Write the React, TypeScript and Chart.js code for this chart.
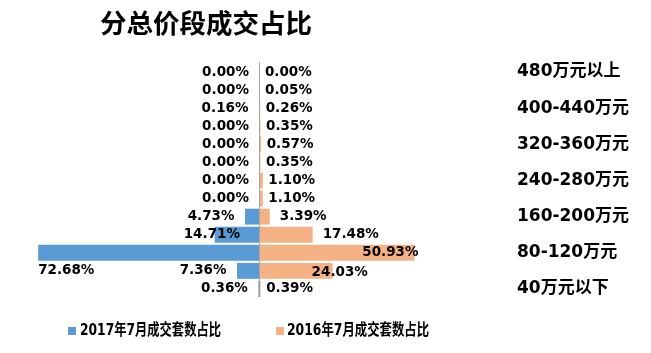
import React, { useEffect, useRef } from "react";
import { Chart, registerables } from "chart.js";

Chart.register(...registerables);

const titleText = "分总价段成交占比";
const categories = [
  "480万元以上",
  "440-480万元",
  "400-440万元",
  "360-400万元",
  "320-360万元",
  "280-320万元",
  "240-280万元",
  "200-240万元",
  "160-200万元",
  "120-160万元",
  "80-120万元",
  "40-80万元",
  "40万元以下",
];
const seriesNames = ["2017年7月成交套数占比", "2016年7月成交套数占比"];
const share2017 = [0, 0, 0.16, 0, 0, 0, 0, 0, 4.73, 14.71, 72.68, 7.36, 0.36];
const share2016 = [0, 0.05, 0.26, 0.35, 0.57, 0.35, 1.1, 1.1, 3.39, 17.48, 50.93, 24.03, 0.39];
const colors = ["#5B9BD5", "#F4B183"];

const NUM_FONT = "bold 13.5px 'DejaVu Sans', 'Noto Sans CJK SC', sans-serif";

const decorPlugin = {
  id: "decor",
  afterDatasetsDraw(chart: any) {
    const ctx = chart.ctx as CanvasRenderingContext2D;
    const xs = chart.scales.x;
    const ys = chart.scales.y;
    const area = chart.chartArea;
    const zero = Math.round(xs.getPixelForValue(0)) + 0.5;
    const rowStep = ys.getPixelForValue(1) - ys.getPixelForValue(0);

    // zero axis line
    ctx.save();
    ctx.strokeStyle = "#A6A6A6";
    ctx.lineWidth = 1;
    ctx.beginPath();
    ctx.moveTo(zero, area.top - 1);
    ctx.lineTo(zero, area.bottom - 1);
    ctx.stroke();
    ctx.restore();

    // data labels
    ctx.save();
    ctx.font = NUM_FONT;
    ctx.fillStyle = "#000";
    ctx.textBaseline = "middle";
    const max17 = Math.max(...share2017);
    const max16 = Math.max(...share2016);
    chart.data.datasets.forEach((ds: any, di: number) => {
      const meta = chart.getDatasetMeta(di);
      meta.data.forEach((el: any, i: number) => {
        const v = di === 0 ? share2017[i] : share2016[i];
        const text = v.toFixed(2) + "%";
        let x: number;
        let y = el.y;
        if (di === 0) {
          const end = Math.min(el.x, el.base);
          if (v === max17) {
            ctx.textAlign = "left";
            x = end;
            y = el.y + rowStep;
          } else if (categories[i] === "120-160万元") {
            ctx.textAlign = "right";
            x = el.base - 19.5;
          } else {
            ctx.textAlign = "right";
            x = end - 10.5;
          }
        } else {
          const end = Math.max(el.x, el.base);
          const len = end - el.base;
          if (v === max16) {
            ctx.textAlign = "right";
            x = end + 4;
          } else if (categories[i] === "40-80万元") {
            ctx.textAlign = "left";
            x = end - 21;
            y = el.y + 2;
          } else {
            ctx.textAlign = "left";
            x = end + (len < 5 ? 5.5 : 10);
          }
        }
        ctx.fillText(text, x, y);
      });
    });
    ctx.restore();

    // title
    ctx.save();
    ctx.font = "bold 26.5px 'Noto Sans CJK SC', sans-serif";
    ctx.fillStyle = "#000";
    ctx.textAlign = "left";
    ctx.textBaseline = "middle";
    ctx.fillText(titleText, 92, 15);
    ctx.restore();

    // legend
    ctx.save();
    const legendY = 323;
    const items = [
      { box: 60, text: 72, width: 141 },
      { box: 268, text: 279, width: 142 },
    ];
    items.forEach((it, k) => {
      ctx.fillStyle = colors[k];
      ctx.fillRect(it.box, legendY - 4, 8, 8);
      ctx.font = "bold 16px 'DejaVu Sans', 'Noto Sans CJK SC', sans-serif";
      ctx.fillStyle = "#000";
      ctx.textAlign = "left";
      ctx.textBaseline = "middle";
      const w = ctx.measureText(seriesNames[k]).width;
      const sx = it.width / w;
      ctx.save();
      ctx.translate(it.text, legendY);
      ctx.scale(sx, 1);
      ctx.fillText(seriesNames[k], 0, 0);
      ctx.restore();
    });
    ctx.restore();
  },
};

export default function App() {
  const ref = useRef<HTMLCanvasElement | null>(null);
  useEffect(() => {
    if (!ref.current) return;
    const chart = new Chart(ref.current, {
      type: "bar",
      data: {
        labels: categories,
        datasets: [
          {
            label: seriesNames[0],
            data: share2017.map((v) => -v),
            backgroundColor: colors[0],
            barPercentage: 0.88,
            categoryPercentage: 1,
          },
          {
            label: seriesNames[1],
            data: share2016,
            backgroundColor: colors[1],
            barPercentage: 0.88,
            categoryPercentage: 1,
          },
        ],
      },
      options: {
        indexAxis: "y",
        animation: false,
        responsive: true,
        maintainAspectRatio: false,
        layout: { padding: { left: 23.1, top: 55, bottom: 47, right: 0 } },
        plugins: {
          legend: { display: false },
          tooltip: { enabled: false },
          title: { display: false },
        },
        scales: {
          x: {
            display: false,
            stacked: true,
            min: -75,
            max: 80,
          },
          y: {
            position: "right",
            stacked: true,
            grid: { display: false, drawTicks: false },
            border: { display: false },
            afterFit: (scale: any) => {
              scale.width = 140;
            },
            ticks: {
              autoSkip: false,
              padding: 14,
              color: "#000",
              font: { family: "'DejaVu Sans', 'Noto Sans CJK SC', sans-serif", size: 17, weight: "bold" },
              callback: (_v: any, i: number) => (i % 2 === 0 ? categories[i] : ""),
            },
          },
        },
      },
      plugins: [decorPlugin],
    });
    return () => chart.destroy();
  }, []);
  return (
    <div style={{ width: "100%", height: 337, position: "relative" }}>
      <canvas ref={ref} />
    </div>
  );
}
